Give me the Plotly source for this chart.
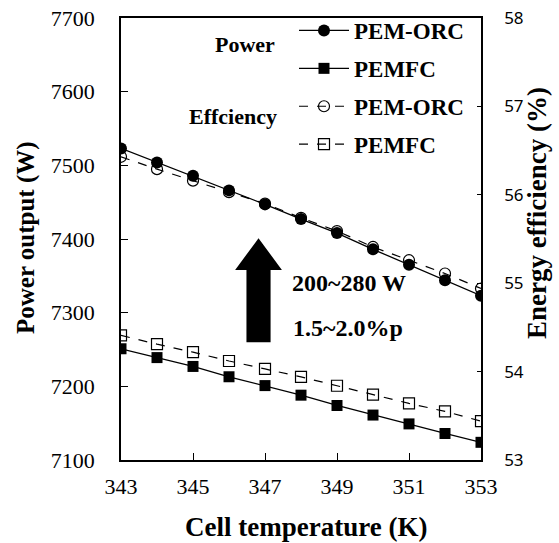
import plotly.graph_objects as go

temps = [343, 344, 345, 346, 347, 348, 349, 350, 351, 352, 353]
power_orc = [7523, 7504, 7486, 7466, 7447, 7427, 7408, 7386, 7365, 7344, 7323]
power_fc = [7251, 7239, 7227, 7213, 7201, 7188, 7174, 7161, 7149, 7136, 7124]
eff_orc = [56.43, 56.29, 56.16, 56.03, 55.90, 55.74, 55.59, 55.41, 55.26, 55.11, 54.94]
eff_fc = [54.41, 54.31, 54.22, 54.12, 54.03, 53.94, 53.84, 53.74, 53.64, 53.55, 53.44]
legend_names = ["PEM-ORC", "PEMFC", "PEM-ORC", "PEMFC"]
x_ticks = [343, 345, 347, 349, 351, 353]
y1_ticks = [7100, 7200, 7300, 7400, 7500, 7600, 7700]
y2_ticks = [53, 54, 55, 56, 57, 58]

SERIF = "Liberation Serif, Times New Roman, serif"
BLK = "black"

fig = go.Figure()
fig.add_trace(go.Scatter(x=temps, y=power_orc, name="<b>" + legend_names[0] + "</b>", legendgroup="a",
                         mode="lines+markers", line=dict(color=BLK, width=1.3),
                         marker=dict(symbol="circle", size=12, color=BLK)))
fig.add_trace(go.Scatter(x=temps, y=power_fc, name="<b>" + legend_names[1] + "</b>", legendgroup="b",
                         mode="lines+markers", line=dict(color=BLK, width=1.3),
                         marker=dict(symbol="square", size=11, color=BLK)))
fig.add_trace(go.Scatter(x=temps, y=eff_orc, name="<b>" + legend_names[2] + "</b>", legendgroup="c", yaxis="y2",
                         mode="lines+markers", line=dict(color=BLK, width=1.2, dash="dash"),
                         marker=dict(symbol="circle-open", size=11, color=BLK, line=dict(width=1.2))))
fig.add_trace(go.Scatter(x=temps, y=eff_fc, name="<b>" + legend_names[3] + "</b>", legendgroup="d", yaxis="y2",
                         mode="lines+markers", line=dict(color=BLK, width=1.2, dash="dash"),
                         marker=dict(symbol="square-open", size=11, color=BLK, line=dict(width=1.2))))

# big up arrow (annotation graphic)
ax_c, hw, sw = 346.82, 0.65, 0.335
y_tip, y_base, y_bot = 7401, 7358, 7260
path = (f"M {ax_c - sw} {y_bot} L {ax_c + sw} {y_bot} L {ax_c + sw} {y_base} "
        f"L {ax_c + hw} {y_base} L {ax_c} {y_tip} L {ax_c - hw} {y_base} "
        f"L {ax_c - sw} {y_base} Z")
fig.add_shape(type="path", path=path, xref="x", yref="y",
              fillcolor=BLK, line=dict(color=BLK, width=0))

ann_font = dict(family=SERIF, size=22, color=BLK)
ann_font2 = dict(family=SERIF, size=24, color=BLK)
fig.add_annotation(text="<b>Power</b>", x=277, y=44, showarrow=False, font=ann_font,
                   xanchor="right", yanchor="middle")
fig.add_annotation(text="<b>200~280 W</b>", x=290, y=283, showarrow=False, font=ann_font2,
                   xanchor="left", yanchor="middle")
fig.add_annotation(text="<b>1.5~2.0%p</b>", x=291, y=328, showarrow=False, font=ann_font2,
                   xanchor="left", yanchor="middle")
fig.add_annotation(text="<b>Effciency</b>", x=279, y=116, showarrow=False, font=ann_font,
                   xanchor="right", yanchor="middle")

W, H = 559, 543
L, R, T, B = 121, 481, 18, 460
# convert pixel positions of the annotations to paper coords
for a in fig.layout.annotations:
    a.xref = "paper"; a.yref = "paper"
    a.x = (a.x - L) / (R - L)
    a.y = (B - a.y) / (B - T)

fig.add_annotation(text="<b>Power output (W)</b>", x=(26 - L) / (R - L), y=(B - 238) / (B - T),
                   xref="paper", yref="paper", textangle=-90, showarrow=False,
                   font=dict(family=SERIF, size=25, color=BLK),
                   xanchor="center", yanchor="middle")
fig.add_annotation(text="<b>Energy efficiency (%)</b>", x=(537 - L) / (R - L), y=(B - 213) / (B - T),
                   xref="paper", yref="paper", textangle=-90, showarrow=False,
                   font=dict(family=SERIF, size=27, color=BLK),
                   xanchor="center", yanchor="middle")
fig.add_annotation(text="<b>Cell temperature (K)</b>", x=(306 - L) / (R - L), y=(B - 527) / (B - T),
                   xref="paper", yref="paper", showarrow=False,
                   font=dict(family=SERIF, size=27, color=BLK),
                   xanchor="center", yanchor="middle")

fig.update_layout(
    width=W, height=H,
    margin=dict(l=L, r=W - R, t=T, b=H - B, autoexpand=False),
    paper_bgcolor="white", plot_bgcolor="white",
    showlegend=True,
    legend=dict(x=(294 - L) / (R - L), y=(B - 9) / (B - T), xanchor="left", yanchor="top",
                bgcolor="rgba(0,0,0,0)", font=dict(family=SERIF, size=23, color=BLK),
                traceorder="grouped", tracegroupgap=5, itemwidth=50),
    xaxis=dict(range=[343, 353], tickvals=x_ticks, ticks="inside", ticklen=7, tickwidth=1.3,
               tickcolor=BLK, showline=True, linecolor=BLK, linewidth=1.5, mirror=True,
               showgrid=False, zeroline=False, ticklabelstandoff=6,
               tickfont=dict(family=SERIF, size=22, color=BLK)),
    yaxis=dict(range=[7100, 7700], tickvals=y1_ticks, ticks="inside", ticklen=7, tickwidth=1.3,
               tickcolor=BLK, showline=True, linecolor=BLK, linewidth=1.5, mirror=True,
               showgrid=False, zeroline=False, ticklabelstandoff=20,
               tickfont=dict(family=SERIF, size=22, color=BLK)),
    yaxis2=dict(range=[53, 58], tickvals=y2_ticks, overlaying="y", side="right",
                ticks="inside", ticklen=4, tickwidth=1.3, tickcolor=BLK,
                showline=True, linecolor=BLK, linewidth=1.5, showgrid=False, zeroline=False,
                ticklabelstandoff=18, tickfont=dict(family="Noto Sans, DejaVu Sans, sans-serif", size=17, color=BLK)),
)

fig.write_html("out.html")
